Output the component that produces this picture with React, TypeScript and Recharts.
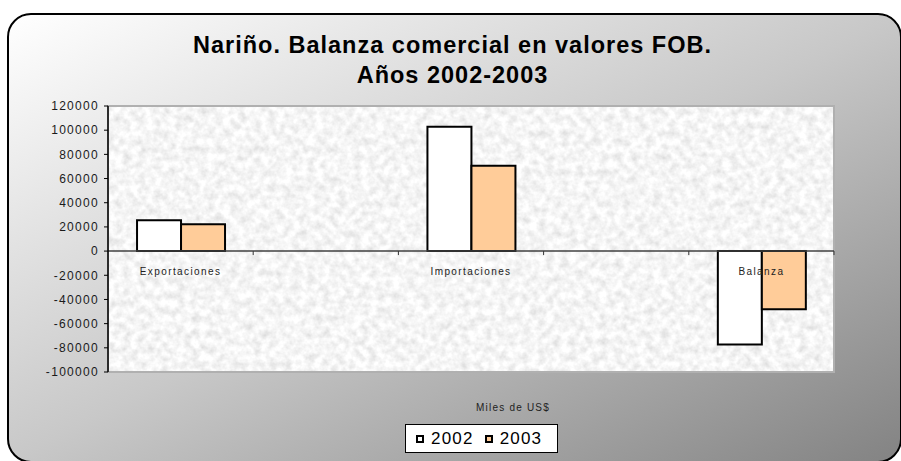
import React from "react";
import { BarChart, Bar, XAxis, YAxis, ReferenceLine, ReferenceArea, CartesianGrid } from "recharts";

// ---- data ----
const categories = ["Exportaciones", "", "Importaciones", "", "Balanza"];
const values2002 = [25600, null, 102800, null, -77200];
const values2003 = [22300, null, 70600, null, -48000];
const seriesNames = ["2002", "2003"];
const seriesColors = ["#FFFFFF", "#FFCC99"];
const yTicks = [-100000, -80000, -60000, -40000, -20000, 0, 20000, 40000, 60000, 80000, 100000, 120000];
const titleLines = ["Nariño. Balanza comercial en valores FOB.", "Años 2002-2003"];
const unitLabel = "Miles de US$";

const data = categories.map((name, i) => ({
  name,
  s2002: values2002[i],
  s2003: values2003[i],
}));

// ---- layout ----
const W = 901;
const H = 461;
const MARGIN = { top: 106, right: 67, bottom: 88, left: 0 };
const Y_AXIS_W = 108;
const X_AXIS_H = 1;
const PLOT_W = W - MARGIN.left - MARGIN.right - Y_AXIS_W;
const PLOT_H = H - MARGIN.top - MARGIN.bottom - X_AXIS_H;
const Y_MIN = yTicks[0];
const Y_MAX = yTicks[yTicks.length - 1];
const ZERO_Y = MARGIN.top + (PLOT_H * Y_MAX) / (Y_MAX - Y_MIN);
const BAND = PLOT_W / categories.length;
const FONT = '"Liberation Sans", Arial, Helvetica, sans-serif';

const CategoryTick = (props: any) => {
  const { x, payload } = props;
  return (
    <g>
      <line x1={x + BAND / 2} x2={x + BAND / 2} y1={ZERO_Y} y2={ZERO_Y + 4} stroke="#333" strokeWidth={1} />
      {payload && payload.value ? (
        <text
          x={x}
          y={ZERO_Y + 24}
          textAnchor="middle"
          fontSize={10}
          fontFamily={FONT}
          fill="#222"
          style={{ letterSpacing: "1.4px" }}
        >
          {payload.value}
        </text>
      ) : null}
    </g>
  );
};

const LegendBox = () => (
  <div
    style={{
      position: "absolute",
      left: 405,
      top: 424,
      boxSizing: "border-box",
      width: 153,
      height: 29,
      border: "1px solid #000",
      background: "#fff",
      display: "flex",
      alignItems: "center",
      paddingLeft: 10,
      fontFamily: FONT,
      fontSize: 17,
      letterSpacing: "1.2px",
      color: "#000",
    }}
  >
    {seriesNames.map((n, i) => (
      <span key={n} style={{ display: "flex", alignItems: "center", marginRight: 11 }}>
        <span
          style={{
            display: "inline-block",
            boxSizing: "border-box",
            width: 8,
            height: 8,
            border: "2px solid #000",
            background: seriesColors[i],
            marginRight: 7,
          }}
        />
        <span style={{ lineHeight: "17px" }}>{n}</span>
      </span>
    ))}
  </div>
);

export default function App() {
  return (
    <div style={{ position: "absolute", left: 0, top: 0, width: W, height: H, fontFamily: FONT, overflow: "hidden" }}>
      <div
        style={{
          position: "absolute",
          left: 7,
          top: 13,
          width: 895,
          height: 450,
          boxSizing: "border-box",
          border: "2px solid #000",
          borderRadius: 24,
          background: "linear-gradient(to bottom right, #ffffff 0%, #c8c8c8 50%, #838383 100%)",
        }}
      />
      {titleLines.map((t, i) => (
        <div
          key={i}
          style={{
            position: "absolute",
            left: 0,
            width: W,
            top: 30 + i * 30,
            lineHeight: "30px",
            textAlign: "center",
            fontSize: 23.5,
            fontWeight: "bold",
            letterSpacing: "1px",
            color: "#000",
            paddingLeft: 2,
          }}
        >
          {t}
        </div>
      ))}
      <div
        style={{
          position: "absolute",
          left: 463,
          width: 100,
          top: 402,
          textAlign: "center",
          fontSize: 10,
          letterSpacing: "1.2px",
          color: "#222",
          lineHeight: "12px",
        }}
      >
        {unitLabel}
      </div>
      <div style={{ position: "absolute", left: 0, top: 0 }}>
        <BarChart width={W} height={H} data={data} margin={MARGIN} barCategoryGap="20%" barGap={0}>
          <defs>
            <filter id="granite" x="0" y="0" width="100%" height="100%" filterUnits="objectBoundingBox">
              <feTurbulence type="fractalNoise" baseFrequency="0.13" numOctaves={3} seed={7} />
              <feColorMatrix
                type="matrix"
                values="0.45 0 0 0 0.69  0.45 0 0 0 0.69  0.45 0 0 0 0.69  0 0 0 0 1"
              />
            </filter>
            <pattern id="granitePattern" patternUnits="userSpaceOnUse" x="0" y="0" width={W} height={H}>
              <rect x="0" y="0" width={W} height={H} fill="#eee" filter="url(#granite)" />
            </pattern>
          </defs>
          <CartesianGrid horizontal={false} vertical={false} fill="url(#granitePattern)" fillOpacity={1} />
          <ReferenceArea
            y1={Y_MIN}
            y2={Y_MAX}
            fill="none"
            fillOpacity={0}
            stroke="#b0b0b0"
            strokeWidth={2}
          />
          <XAxis
            dataKey="name"
            height={X_AXIS_H}
            axisLine={false}
            tickLine={false}
            interval={0}
            tick={CategoryTick}
          />
          <YAxis
            width={Y_AXIS_W}
            domain={[Y_MIN, Y_MAX]}
            ticks={yTicks}
            interval={0}
            allowDataOverflow
            axisLine={{ stroke: "#000", strokeWidth: 1.5 }}
            tickLine={{ stroke: "#000", strokeWidth: 1 }}
            tickSize={4}
            tickMargin={5}
            tick={{ fill: "#1a1a1a", fontSize: 12, fontFamily: FONT, style: { letterSpacing: "1.3px" } }}
          />
          <ReferenceLine y={0} stroke="#404040" strokeWidth={1.5} />
          <Bar dataKey="s2002" name={seriesNames[0]} fill={seriesColors[0]} stroke="#000" strokeWidth={2} isAnimationActive={false} />
          <Bar dataKey="s2003" name={seriesNames[1]} fill={seriesColors[1]} stroke="#000" strokeWidth={2} isAnimationActive={false} />
        </BarChart>
      </div>
      <LegendBox />
    </div>
  );
}
